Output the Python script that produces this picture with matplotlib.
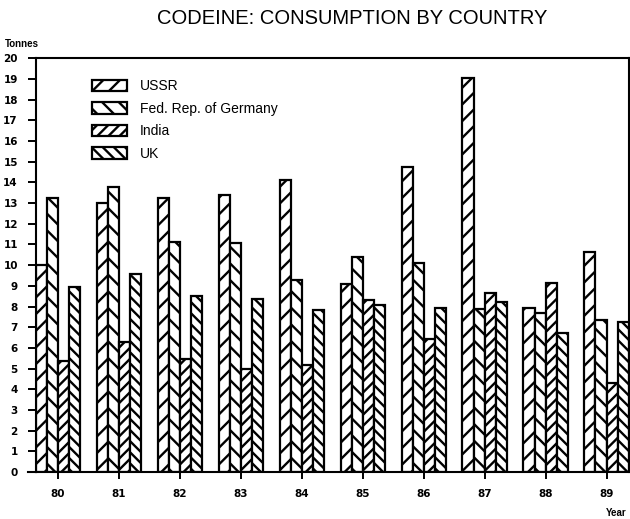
import numpy as np
from matplotlib import pyplot as plt
from matplotlib.patches import Patch

# Data (tonnes)
years = ['80', '81', '82', '83', '84', '85', '86', '87', '88', '89']
ussr = [10.0, 13.0, 13.25, 13.4, 14.1, 9.1, 14.75, 19.05, 7.95, 10.65]
germany = [13.25, 13.8, 11.1, 11.05, 9.3, 10.4, 10.1, 7.9, 7.7, 7.35]
india = [5.35, 6.3, 5.45, 5.0, 5.15, 8.3, 6.45, 8.65, 9.15, 4.3]
uk = [8.95, 9.55, 8.5, 8.35, 7.85, 8.05, 7.95, 8.2, 6.7, 7.25]

series = [('USSR', ussr, '//'),
          ('Fed. Rep. of Germany', germany, '\\\\'),
          ('India', india, '///'),
          ('UK', uk, '\\\\\\')]

plt.rcParams['hatch.linewidth'] = 1.7
plt.rcParams['font.family'] = ['Liberation Sans', 'DejaVu Sans']

fig = plt.figure(figsize=(6.3, 5.19), dpi=100)
ax = fig.add_axes([0.057, 0.0906, 0.941, 0.797])

x = np.arange(len(years))
w = 0.182
handles = []
for i, (name, vals, hatch) in enumerate(series):
    ax.bar(x - 1.5 * w + i * w, vals, w, color='white', edgecolor='black',
           linewidth=1.6, hatch=hatch)
    handles.append(Patch(facecolor='white', edgecolor='black', linewidth=1.6,
                         hatch=hatch, label=name))

ax.set_xlim(-2 * w, 9 + 2 * w)
ax.set_ylim(0, 20)
ax.set_yticks(range(0, 21))
ax.set_xticks(x)
ax.set_xticklabels(years)

for s in ax.spines.values():
    s.set_linewidth(1.5)
ax.tick_params(axis='y', length=6, width=1.4, pad=7, labelsize=7.5)
ax.tick_params(axis='x', length=5, width=1.4, pad=7, labelsize=7.5)
for lab in ax.get_xticklabels() + ax.get_yticklabels():
    lab.set_fontweight('bold')
    lab.set_family('DejaVu Sans')

# x axis line runs a little past the y axis
ax.plot([-0.014, 0], [0, 0], transform=ax.transAxes, color='black',
        linewidth=1.5, clip_on=False)

leg = ax.legend(handles=handles, loc='upper left', bbox_to_anchor=(0.074, 0.98),
                frameon=False, fontsize=10, handlelength=2.5, handleheight=0.9,
                labelspacing=0.62, handletextpad=0.95)

fig.text(0.559, 0.965, 'CODEINE: CONSUMPTION BY COUNTRY', ha='center', va='center',
         fontsize=14.5)
fig.text(0.008, 0.915, 'Tonnes', ha='left', va='center', fontsize=7,
         fontweight='bold')
fig.text(0.995, 0.012, 'Year', ha='right', va='center', fontsize=7,
         fontweight='bold')

fig.savefig('out.png', dpi=100)
